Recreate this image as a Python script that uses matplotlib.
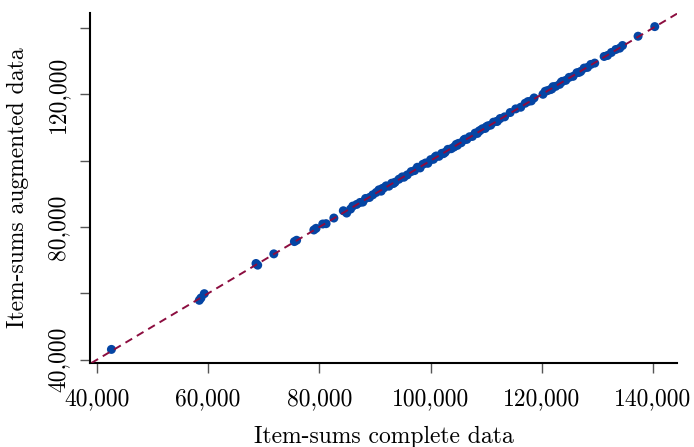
import matplotlib
matplotlib.use("Agg")
import matplotlib.pyplot as plt

# item sums: complete data (x) vs augmented data (y)
complete = [42600, 58400, 58700, 59300, 68600, 68900, 71800, 75500, 75900,
            79000, 79400, 80600, 81200, 82600, 84300, 84900, 85600, 86000,
            86700, 87300, 87800, 88300, 89000, 89600, 90200, 90700, 91100,
            91600, 92000, 92500, 93000, 93600, 94300, 94900, 95800, 96500,
            97100, 97600, 98100, 98600, 99100, 99500, 100000, 100500, 101000,
            101500, 102000, 102600, 103100, 103700, 104200, 104600, 105000,
            105500, 106000, 106500, 107000, 107500, 108000, 108400, 108900,
            109300, 109800, 110300, 110800, 111300, 111900, 112500, 113300,
            114300, 115300, 116200, 117000, 117500, 118100, 118600, 120200,
            120600, 121000, 121500, 122000, 122500, 123200, 123700, 124300,
            124900, 125600, 126300, 127000, 127600, 128200, 128800, 129500,
            131200, 131800, 132500, 133300, 134000, 134500, 137300, 140300,
            91300, 93300, 95200, 100800, 102300, 104800, 106200, 108700,
            110000, 112000, 121800, 123500, 126700]
augmented = [43100, 57900, 58600, 59900, 69000, 68500, 71900, 75600, 76000,
             79100, 79600, 80900, 81000, 82700, 84900, 84200, 85400, 86300,
             86800, 87400, 87500, 88600, 88900, 89700, 90400, 91200, 90800,
             91800, 92400, 92300, 93200, 93500, 94400, 95100, 95700, 96700,
             97000, 98000, 97800, 98900, 99300, 99200, 100300, 100400, 101400,
             101300, 102200, 102500, 103400, 103600, 104100, 104900, 105200,
             105400, 106300, 106400, 107200, 107300, 108300, 108200, 109100,
             109600, 109700, 110500, 110700, 111600, 111800, 112700, 113200,
             114500, 115600, 116100, 117300, 117800, 118000, 118900, 120000,
             120900, 121100, 121400, 122300, 122400, 123000, 123900, 124200,
             125100, 125400, 126500, 126900, 127900, 128100, 129000, 129400,
             131400, 131700, 132600, 133500, 133900, 134700, 137500, 140400,
             91600, 93100, 95000, 101100, 102100, 104600, 106500, 108900,
             110200, 111900, 121600, 123700, 126600]

xticks = [40000, 60000, 80000, 100000, 120000, 140000]
yticks = [40000, 60000, 80000, 100000, 120000, 140000]
ytick_labels = ["40,000", "", "80,000", "", "120,000", ""]

plt.rcParams["font.family"] = "cmr10"
plt.rcParams["mathtext.fontset"] = "cm"
plt.rcParams["axes.unicode_minus"] = False

fig = plt.figure(figsize=(6.94, 4.47), dpi=100)
ax = fig.add_axes([0.1297, 0.1879, 0.8458, 0.7830])

ax.axline((40000, 40000), slope=1, color="#8c0d3f", lw=1.4,
          linestyle=(0, (4, 2.8)), zorder=3)
ax.scatter(complete, augmented, s=42, color="#0445a4", edgecolors="none", zorder=2)

ax.set_xlim(38750, 144300)
ax.set_ylim(39000, 144500)

ax.set_xticks(xticks)
ax.set_xticklabels(["{:,}".format(v) for v in xticks])
ax.set_yticks(yticks)
ax.set_yticklabels(ytick_labels, rotation=90, va="center")

for side in ["top", "right"]:
    ax.spines[side].set_visible(False)
for side in ["left", "bottom"]:
    ax.spines[side].set_linewidth(1.5)

ax.tick_params(axis="both", length=7, width=1, color="#555555", labelsize=17)
ax.tick_params(axis="x", pad=11)
ax.tick_params(axis="y", pad=8)

ax.set_xlabel("Item-sums complete data", fontsize=17, labelpad=11)
ax.set_ylabel("Item-sums augmented data", fontsize=17, labelpad=13)

fig.savefig("out.png", dpi=100)
